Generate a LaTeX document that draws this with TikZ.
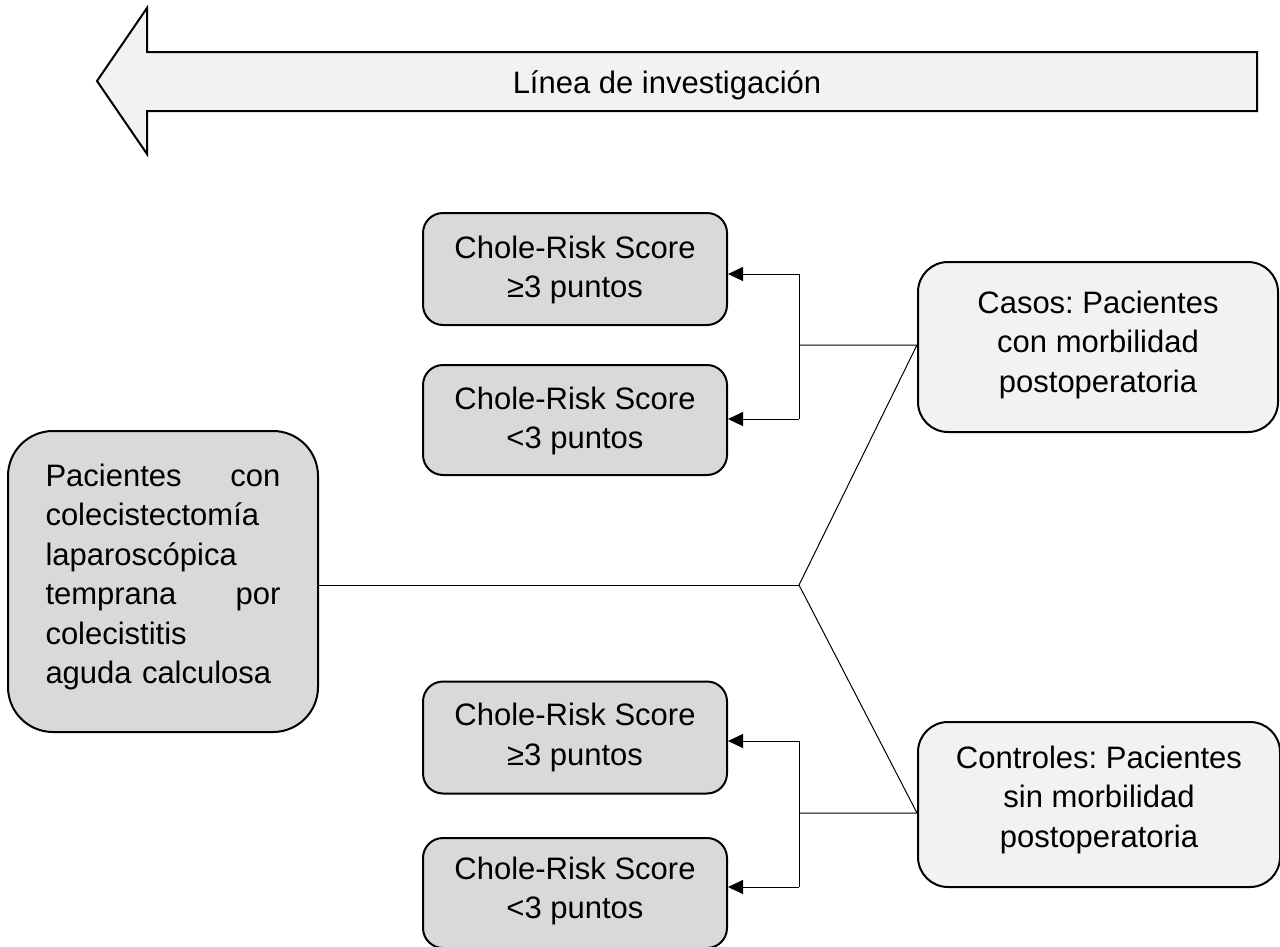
\documentclass[tikz,border=0pt]{standalone}
\usepackage{fontspec}
\setmainfont{Liberation Sans}
\usetikzlibrary{arrows.meta}
\definecolor{boxgray}{HTML}{D9D9D9}
\definecolor{lightgray2}{HTML}{F2F2F2}
\frenchspacing
\tikzset{
  scorebox/.style={draw=black, line width=2pt, fill=boxgray, rounded corners=20pt,
    minimum width=304pt, minimum height=112pt, inner sep=0pt},
  groupbox/.style={draw=black, line width=2pt, fill=lightgray2, rounded corners=30pt,
    minimum width=360pt, inner sep=0pt},
  patbox/.style={draw=black, line width=2pt, fill=boxgray, rounded corners=45pt,
    minimum width=310pt, minimum height=301pt, inner sep=0pt},
  txt/.style={font=\fontsize{31}{39.5}\selectfont\frenchspacing, align=center, inner sep=0pt},
  conn/.style={draw=black, line width=1pt},
  arr/.style={conn, -{Triangle[length=15pt,width=14pt]}},
  bigarrow/.style={draw=black, line width=2pt, fill=lightgray2, line join=miter}
}
\begin{document}
\begin{tikzpicture}[x=1pt,y=-1pt]
\useasboundingbox (0,0) rectangle (1280,946);
% big arrow
\draw[bigarrow] (97,81) -- (147,8) -- (147,52) -- (1257,52) -- (1257,111) -- (147,111) -- (147,154) -- cycle;
\node[txt, anchor=base] (linea) at (667,93) {Línea de investigación};
% boxes
\node[patbox] (pat) at (163,581.5) {};
\node[txt, text width=235pt, align=left] (pattxt) at (163,577) {Pacientes\hfill con\\colecistectomía\\laparoscópica\\temprana\hfill por\\colecistitis\\aguda calculosa};
\node[scorebox] (su1) at (575,269) {};
\node[txt] (su1t) at (575,270) {Chole-Risk Score\\≥3 puntos};
\node[scorebox, minimum height=110pt] (su2) at (575,420) {};
\node[txt] (su2t) at (575,421) {Chole-Risk Score\\<3 puntos};
\node[scorebox] (sl1) at (575,737.5) {};
\node[txt] (sl1t) at (575,737.5) {Chole-Risk Score\\≥3 puntos};
\node[scorebox, minimum height=110pt] (sl2) at (575,893) {};
\node[txt] (sl2t) at (575,891) {Chole-Risk Score\\<3 puntos};
\node[groupbox, minimum height=170pt] (casos) at (1098,347) {};
\node[txt] (casost) at (1098,344.5) {Casos: Pacientes\\con morbilidad\\postoperatoria};
\node[groupbox, minimum height=165pt, minimum width=362pt] (ctrl) at (1099,804.5) {};
\node[txt] (ctrlt) at (1099,799.5) {Controles: Pacientes\\sin morbilidad\\postoperatoria};
% connectors
\coordinate (hub) at (799,585);
\coordinate (bu) at (799,345);
\coordinate (bl) at (799,813);
\coordinate (au1) at (799,274);
\coordinate (au2) at (799,419);
\coordinate (al1) at (799,741);
\coordinate (al2) at (799,887);
\draw[conn] (pat.east |- hub) -- (hub);
\draw[conn] (hub) -- (casos.west |- bu) -- (bu);
\draw[conn] (hub) -- (ctrl.west |- bl) -- (bl);
\draw[conn] (au1) -- (au2);
\draw[conn] (al1) -- (al2);
\draw[arr] (au1) -- (su1.east |- au1);
\draw[arr] (au2) -- (su2.east |- au2);
\draw[arr] (al1) -- (sl1.east |- al1);
\draw[arr] (al2) -- (sl2.east |- al2);
\end{tikzpicture}
\end{document}
